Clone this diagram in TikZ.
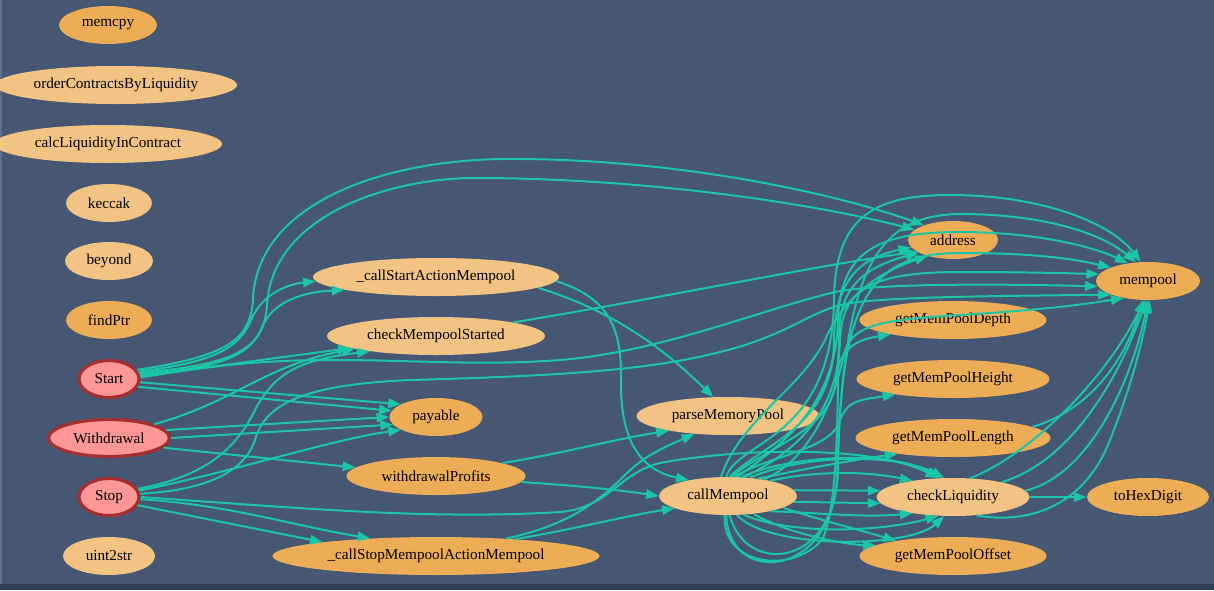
\documentclass[tikz,border=0pt]{standalone}
\usepackage{fontspec}
\setmainfont{Liberation Serif}
\usetikzlibrary{arrows.meta,shapes.geometric}
\definecolor{bg}{HTML}{455773}
\definecolor{bgdark}{HTML}{2F3C52}
\definecolor{ec}{HTML}{1BC6A6}
\definecolor{lfill}{HTML}{F2C383}
\definecolor{dfill}{HTML}{EDAD56}
\definecolor{pfill}{HTML}{FF9797}
\definecolor{pborder}{HTML}{A52E2E}
\tikzset{
  fn/.style={ellipse, inner sep=0pt, minimum height=28.5pt, font=\fontsize{11.4pt}{13pt}\selectfont, text=black},
  wd/.style={minimum width={#1*0.75pt}},
  lt/.style={fn, fill=lfill},
  dk/.style={fn, fill=dfill},
  pk/.style={fn, fill=pfill, draw=pborder, line width=2.4pt, minimum height=27.75pt},
  e/.style={draw=ec, line width=1.5pt, -{Triangle[length=9.5pt,width=7pt]}}
}
\begin{document}
\begin{tikzpicture}[x=0.75pt,y=-0.75pt]
\useasboundingbox (0,0) rectangle (1214,590);
\fill[bg] (0,0) rectangle (1214,590);
\fill[bgdark] (0,584) rectangle (1214,590);
\fill[bg!85!white] (0,0) rectangle (2,584);

% nodes
\node[dk,wd=98] (memcpy) at (108,25) {memcpy};
\node[lt,wd=242] (order) at (116,85) {orderContractsByLiquidity};
\node[lt,wd=228] (calc) at (108,144) {calcLiquidityInContract};
\node[lt,wd=86] (keccak) at (109,203) {keccak};
\node[lt,wd=88] (beyond) at (109,261) {beyond};
\node[dk,wd=86] (findptr) at (109,320) {findPtr};
\node[pk,wd=60] (start) at (109,379) {Start};
\node[pk,wd=121] (withdr) at (109,438) {Withdrawal};
\node[pk,wd=60] (stop) at (109,497) {Stop};
\node[lt,wd=92] (uint) at (109,556) {uint2str};
\node[lt,wd=246] (csa) at (436,277) {\_callStartActionMempool};
\node[lt,wd=218] (cms) at (436,336) {checkMempoolStarted};
\node[dk,wd=93] (pay) at (436,417) {payable};
\node[dk,wd=179] (wp) at (436,476) {withdrawalProfits};
\node[dk,wd=327] (csm) at (436,556) {\_callStopMempoolActionMempool};
\node[lt,wd=183] (pmp) at (728,416) {parseMemoryPool};
\node[lt,wd=138] (cm) at (728,496) {callMempool};
\node[dk,wd=90] (addr) at (953,240) {address};
\node[dk,wd=187] (depth) at (953,320) {getMemPoolDepth};
\node[dk,wd=193] (height) at (953,379) {getMemPoolHeight};
\node[dk,wd=195] (length) at (953,438) {getMemPoolLength};
\node[lt,wd=153] (cl) at (953,497) {checkLiquidity};
\node[dk,wd=187] (offset) at (953,556) {getMemPoolOffset};
\node[dk,wd=104] (mp) at (1148,281) {mempool};
\node[dk,wd=122] (hex) at (1148,497) {toHexDigit};

% Start
\draw[e] (start.14) .. controls (215,362) and (240,348) .. (252,318) .. controls (264,292) and (290,284) .. (csa.182);
\draw[e] (start.8) .. controls (222,368) and (252,355) .. (263,325) .. controls (275,300) and (305,292) .. (csa.188);
\draw[e] (start.18) .. controls (228,356) and (250,340) .. (253,300) .. controls (256,205) and (380,160) .. (505,159) .. controls (680,158) and (840,195) .. (addr.153);
\draw[e] (start.11) .. controls (232,364) and (264,352) .. (267,305) .. controls (272,215) and (390,178) .. (475,178) .. controls (650,178) and (820,205) .. (addr.165);
\draw[e] (start.5) -- (cms.188);
\draw[e] (start.3) .. controls (200,368) and (250,360) .. (330,360) .. controls (420,360) and (480,366) .. (560,360) .. controls (660,352) and (760,310) .. (835,292) .. controls (880,283) and (1000,284) .. (mp.186);
\draw[e] (start.-6) -- (pay.160);
\draw[e] (start.-15) -- (pay.172);

% Withdrawal
\draw[e] (withdr.17) .. controls (235,402) and (265,365) .. (cms.189);
\draw[e] (withdr.8) -- (pay.180);
\draw[e] (withdr.0) -- (pay.190);
\draw[e] (withdr.-10) -- (wp.174);

% Stop
\draw[e] (stop.16) .. controls (215,475) and (240,440) .. (255,410) .. controls (275,372) and (300,360) .. (cms.193);
\draw[e] (stop.12) .. controls (240,470) and (330,440) .. (pay.200);
\draw[e] (stop.6) .. controls (210,490) and (245,470) .. (255,440) .. controls (265,405) and (300,385) .. (410,380) .. controls (560,376) and (650,370) .. (720,352) .. controls (790,335) and (810,310) .. (850,303) .. controls (900,296) and (1020,296) .. (mp.200);
\draw[e] (stop.-4) .. controls (230,505) and (290,525) .. (csm.165);
\draw[e] (stop.-16) -- (csm.173);
\draw[e] (stop.0) .. controls (300,508) and (430,520) .. (560,512) .. controls (610,508) and (620,470) .. (665,462) .. controls (760,446) and (880,448) .. (cl.128);

% _callStartActionMempool
\draw[e] (csa.-6) .. controls (610,310) and (660,345) .. (pmp.128);
\draw[e] (csa.-2) .. controls (610,298) and (622,330) .. (621,380) .. controls (620,440) and (640,470) .. (cm.158);

% checkMempoolStarted
\draw[e] (cms.10) .. controls (650,300) and (820,265) .. (addr.198);

% withdrawalProfits
\draw[e] (wp.11) .. controls (570,452) and (610,440) .. (pmp.194);
\draw[e] (wp.-4) .. controls (580,486) and (620,490) .. (cm.180);

% _callStopMempoolActionMempool
\draw[e] (csm.14) .. controls (570,525) and (600,500) .. (625,475) .. controls (645,455) and (665,447) .. (pmp.208);
\draw[e] (csm.12) .. controls (580,528) and (630,515) .. (cm.193);

% callMempool -> checkLiquidity
\draw[e] (cm.5) -- (cl.175);
\draw[e] (cm.-5) -- (cl.-175);
\draw[e] (cm.20) .. controls (810,472) and (860,470) .. (cl.158);
\draw[e] (cm.55) .. controls (790,455) and (890,450) .. (cl.125);
\draw[e] (cm.40) .. controls (810,452) and (900,455) .. (cl.115);
\draw[e] (cm.-20) .. controls (810,512) and (860,518) .. (cl.-158);
\draw[e] (cm.-50) .. controls (790,535) and (880,532) .. (cl.-128);
\draw[e] (cm.-65) .. controls (770,550) and (910,548) .. (cl.-115);
% callMempool -> getMemPool*
\draw[e] (cm.-12) .. controls (820,520) and (860,530) .. (offset.165);
\draw[e] (cm.-35) .. controls (790,535) and (850,545) .. (offset.172);
\draw[e] (cm.30) .. controls (800,470) and (840,462) .. (length.196);
\draw[e] (cm.72) .. controls (770,455) and (832,450) .. (840,420) .. controls (848,400) and (860,400) .. (height.195);
\draw[e] (cm.80) .. controls (770,445) and (832,430) .. (836,380) .. controls (838,350) and (855,340) .. (depth.193);
% callMempool -> address
\draw[e] (cm.86) .. controls (770,440) and (833,425) .. (834,340) .. controls (835,280) and (860,258) .. (addr.190);
\draw[e] (cm.-100) .. controls (722,565) and (790,575) .. (822,540) .. controls (842,500) and (836,360) .. (840,320) .. controls (845,282) and (870,266) .. (addr.200);
\draw[e] (cm.110) .. controls (740,420) and (800,390) .. (825,340) .. controls (845,295) and (880,272) .. (addr.212);
% callMempool -> mempool
\draw[e] (cm.95) .. controls (738,440) and (832,440) .. (834,300) .. controls (835,220) and (870,195) .. (950,195) .. controls (1040,195) and (1110,222) .. (mp.111);
\draw[e] (cm.-95) .. controls (728,585) and (830,580) .. (837,480) .. controls (843,280) and (870,215) .. (960,214) .. controls (1040,214) and (1100,232) .. (mp.123);
\draw[e] (cm.65) .. controls (790,440) and (836,400) .. (838,320) .. controls (840,250) and (880,232) .. (960,232) .. controls (1030,232) and (1090,245) .. (mp.139);
\draw[e] (cm.-85) .. controls (745,575) and (835,570) .. (838,470) .. controls (840,300) and (870,253) .. (960,253) .. controls (1030,253) and (1070,258) .. (mp.160);
\draw[e] (cm.50) .. controls (800,450) and (838,410) .. (840,340) .. controls (842,290) and (870,272) .. (960,272) .. controls (1020,272) and (1060,273) .. (mp.172);
\draw[e] (cm.25) .. controls (810,460) and (835,400) .. (845,350) .. controls (855,325) and (880,320) .. (960,315) .. controls (1040,310) and (1080,305) .. (mp.215);

% checkLiquidity, getMemPoolLength
\draw[e] (cl.0) -- (hex.180);
\draw[e] (length.8) .. controls (1090,410) and (1125,360) .. (mp.-105);
\draw[e] (cl.48) .. controls (1030,455) and (1105,380) .. (mp.-100);
\draw[e] (cl.17) .. controls (1070,462) and (1118,380) .. (mp.-95);
\draw[e] (cl.5) .. controls (1090,475) and (1132,380) .. (mp.-90);
\draw[e] (cl.-38) .. controls (1030,525) and (1085,505) .. (1110,440) .. controls (1130,390) and (1143,340) .. (mp.-85);
\end{tikzpicture}
\end{document}
